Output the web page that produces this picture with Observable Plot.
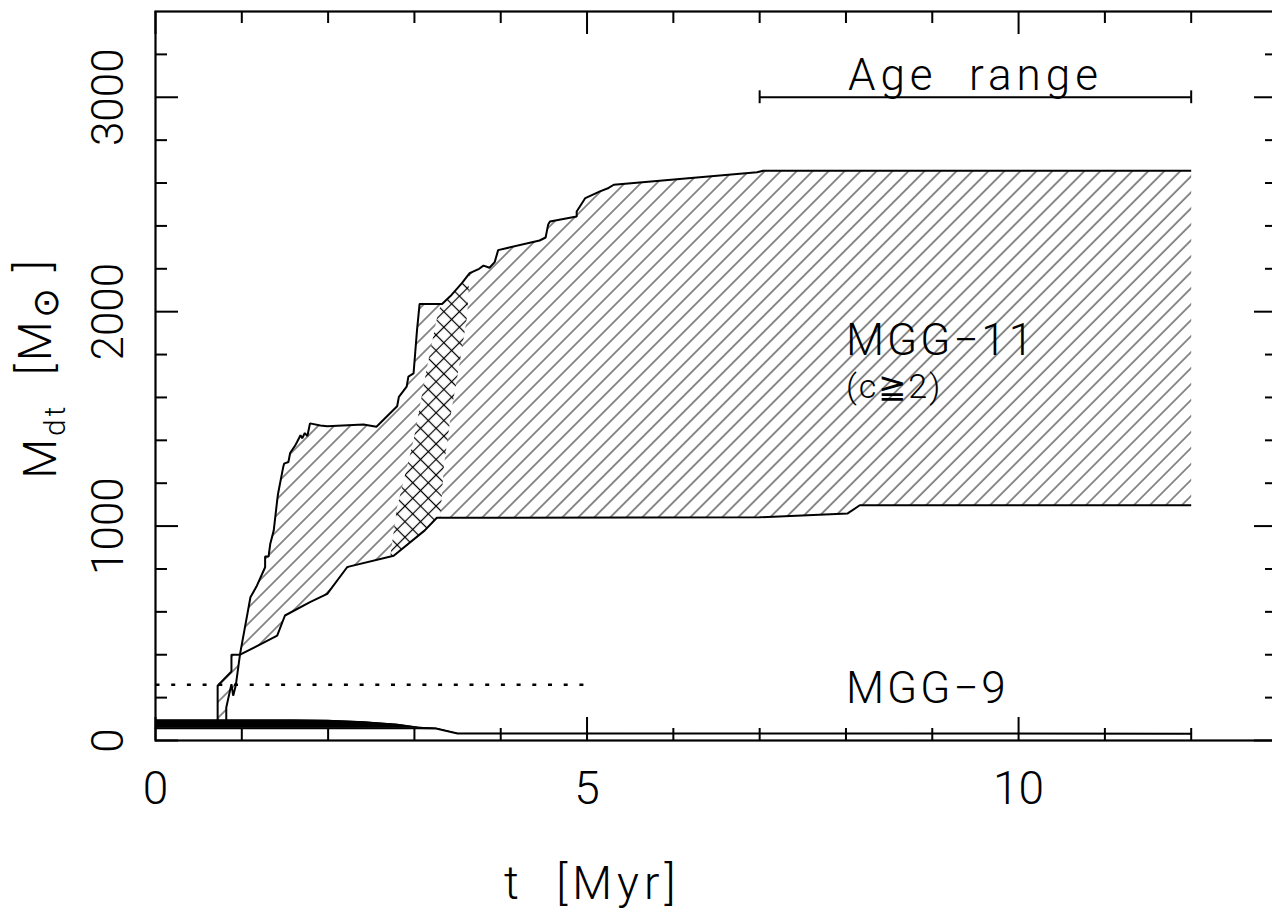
<!DOCTYPE html>
<html>
<head>
<meta charset="utf-8">
<script src="https://cdn.jsdelivr.net/npm/d3@7"></script>
<script src="https://cdn.jsdelivr.net/npm/@observablehq/plot@0.6"></script>
<style>
html, body { margin: 0; padding: 0; background: #fff; }
#chart svg { display: block; }
</style>
</head>
<body>
<div id="chart"></div>
<script>
// ---------- data ----------
// MGG-11 band: upper envelope (t [Myr], M_dt [Msun])
const upperT = [0.82, 0.82, 0.88, 0.90, 0.93, 0.98, 1.10, 1.17, 1.27, 1.27, 1.31, 1.33, 1.37, 1.41, 1.42,
  1.48, 1.49, 1.54, 1.56, 1.62, 1.64, 1.68, 1.70, 1.73, 1.76, 1.79, 1.91, 1.99, 2.41, 2.56, 2.80, 2.82,
  2.91, 2.93, 2.99, 3.01, 3.03, 3.06, 3.32, 3.43, 3.55, 3.64, 3.75, 3.80, 3.87, 3.93, 3.97, 4.45, 4.52,
  4.55, 4.57, 4.88, 4.88, 4.98, 5.15, 5.25, 5.31, 6.97, 7.04, 12];
const upperM = [96, 154, 263, 209, 256, 404, 668, 718, 808, 858, 858, 918, 980, 1120, 1151,
  1276, 1291, 1299, 1341, 1377, 1392, 1424, 1410, 1434, 1420, 1479, 1469, 1466, 1474, 1463, 1559, 1603,
  1650, 1697, 1712, 1813, 1914, 2036, 2036, 2078, 2133, 2180, 2200, 2215, 2205, 2231, 2287, 2332, 2346,
  2407, 2421, 2444, 2467, 2530, 2561, 2577, 2592, 2650, 2657, 2657];
// MGG-11 band: lower envelope
const lowerT = [0.72, 0.72, 0.88, 0.88, 0.98, 1.41, 1.50, 1.79, 1.99, 2.22, 2.24, 2.76, 3.12, 3.26, 7.0, 8.02, 8.16, 12];
const lowerM = [96, 256, 322, 400, 400, 489, 583, 645, 684, 808, 811, 862, 980, 1039, 1041, 1059, 1097, 1097];
// cross-hatched strip
const crossT = [2.72, 2.76, 3.12, 3.26, 3.30, 3.34, 3.43, 3.53, 3.61, 3.64, 3.55, 3.43, 3.32, 3.28, 3.14, 2.99, 2.80, 2.72];
const crossM = [859, 862, 980, 1039, 1040, 1276, 1541, 1775, 1977, 2180, 2133, 2078, 2036, 2008, 1728, 1400, 1089, 859];
// MGG-9 band
const mgg9T  = [0, 1.6, 2.0, 2.4, 2.8, 3.05, 3.25, 3.5, 12];
const mgg9Hi = [96, 96, 94, 88, 76, 62, 57, 33, 32];
const mgg9Lo = [57, 57, 57, 57, 57, 57, 56, 33, 32];
// dotted reference line
const dottedT = [0, 5];
const dottedM = [260, 260];
// age range bar
const ageT = [7, 12];
const ageM = 3000;
// ticks
const xMajor = [0, 5, 10];
const xMinor = [1, 2, 3, 4, 6, 7, 8, 9, 11, 12];
const xTickLabels = ["0", "5", "10"];
const yMajor = [0, 1000, 2000, 3000];
const yMinor = [200, 400, 600, 800, 1200, 1400, 1600, 1800, 2200, 2400, 2600, 2800, 3200];
const yTickLabels = ["0", "1000", "2000", "3000"];
// annotations
const ageText = ["Age\u00a0\u00a0range"];
const ageTextT = [9.5];
const nameText = ["MGG\u221211", "MGG\u22129"];
const nameT = [8.0, 8.0];
const nameM = [1798, 177];
const subText = ["(c\u22672)"];
const subT = [8.0];
const subM = [1597];
const xTitle = "t\u00a0\u00a0[Myr]";
const xTitleT = 5.06;

// ---------- layout ----------
const W = 1272, H = 914, mL = 155, mR = -5, mT = 11, mB = 174;
const plotW = W - mL - mR, plotH = H - mT - mB;
const FONT = "Roboto, 'DejaVu Sans', 'Noto Sans', sans-serif";

const band = [...d3.zip(upperT, upperM), ...d3.zip(lowerT, lowerM).reverse()];
const cross = d3.zip(crossT, crossM);
const X = d => d[0], Y = d => d[1];

const chart = Plot.plot({
  width: W, height: H,
  marginLeft: mL, marginRight: mR, marginTop: mT, marginBottom: mB,
  x: {domain: [0, 13], axis: null},
  y: {domain: [0, 3400], axis: null},
  style: {fontFamily: FONT, background: "white", color: "black", overflow: "hidden"},
  marks: [
    Plot.line(band, {x: X, y: Y, fill: "url(#hatch)", stroke: "none"}),
    Plot.line(cross, {x: X, y: Y, fill: "url(#xhatch)", stroke: "none"}),
    Plot.line(d3.zip(upperT, upperM), {x: X, y: Y, stroke: "black", strokeWidth: 2, strokeLinejoin: "miter", strokeLinecap: "butt"}),
    Plot.line(d3.zip(lowerT, lowerM), {x: X, y: Y, stroke: "black", strokeWidth: 2, strokeLinejoin: "miter", strokeLinecap: "butt"}),
    Plot.areaY(mgg9T, {x: d => d, y1: (d, i) => mgg9Lo[i], y2: (d, i) => mgg9Hi[i], fill: "black"}),
    Plot.line(mgg9T, {x: d => d, y: (d, i) => mgg9Lo[i], stroke: "black", strokeWidth: 2}),
    Plot.line(mgg9T, {x: d => d, y: (d, i) => mgg9Hi[i], stroke: "black", strokeWidth: 1}),
    Plot.line(dottedT, {x: d => d, y: (d, i) => dottedM[i], stroke: "black", strokeWidth: 2.5, strokeDasharray: "4,11.7", strokeLinecap: "butt"}),
    // age range bar
    Plot.ruleY([ageM], {x1: ageT[0], x2: ageT[1], stroke: "black", strokeWidth: 2}),
    Plot.ruleX(ageT, {x: d => d, y1: ageM - 30, y2: ageM + 30, stroke: "black", strokeWidth: 2}),
    // annotations
    Plot.text(ageText, {x: (d, i) => ageTextT[i], y: () => ageM, text: d => d, textAnchor: "middle", dy: -7,
      lineAnchor: "bottom", fontSize: 44, fontWeight: 300, fill: "black"}),
    Plot.text(nameText, {x: (d, i) => nameT[i], y: (d, i) => nameM[i], text: d => d, textAnchor: "start",
      lineAnchor: "bottom", fontSize: 44, fontWeight: 300, fill: "black"}),
    Plot.text(subText, {x: (d, i) => subT[i], y: (d, i) => subM[i], text: d => d,
      textAnchor: "start", lineAnchor: "bottom", fontSize: 34, fontWeight: 300, fill: "black"}),
    // tick labels
    Plot.text(xTickLabels, {x: (d, i) => xMajor[i], text: d => d, frameAnchor: "bottom", dy: 31,
      lineAnchor: "top", fontSize: 46, fontWeight: 300, fill: "black"}),
    Plot.text(yTickLabels, {y: (d, i) => yMajor[i], text: d => d, frameAnchor: "left", dx: -33, rotate: -90,
      textAnchor: "middle", lineAnchor: "bottom", fontSize: 44, fontWeight: 300, fill: "black"}),
    Plot.text([xTitle], {x: () => xTitleT, text: d => d, frameAnchor: "bottom", dy: 158,
      lineAnchor: "bottom", textAnchor: "middle", fontSize: 46, fontWeight: 300, fill: "black"}),
    // inward ticks
    Plot.tickX(xMinor, {x: d => d, insetTop: plotH - 12, stroke: "black", strokeWidth: 2}),
    Plot.tickX(xMinor, {x: d => d, insetBottom: plotH - 12, stroke: "black", strokeWidth: 2}),
    Plot.tickX(xMajor, {x: d => d, insetTop: plotH - 23, stroke: "black", strokeWidth: 2}),
    Plot.tickX(xMajor, {x: d => d, insetBottom: plotH - 23, stroke: "black", strokeWidth: 2}),
    Plot.tickY(yMinor, {y: d => d, insetRight: plotW - 12, stroke: "black", strokeWidth: 2}),
    Plot.tickY(yMinor, {y: d => d, insetLeft: plotW - 12, stroke: "black", strokeWidth: 2}),
    Plot.tickY(yMajor, {y: d => d, insetRight: plotW - 23, stroke: "black", strokeWidth: 2}),
    Plot.tickY(yMajor, {y: d => d, insetLeft: plotW - 23, stroke: "black", strokeWidth: 2}),
    Plot.frame({stroke: "black", strokeWidth: 2.2})
  ]
});

// hatch patterns
const svg = d3.select(chart);
const defs = svg.insert("defs", ":first-child");
const hatch = defs.append("pattern").attr("id", "hatch")
  .attr("patternUnits", "userSpaceOnUse").attr("width", 11.3).attr("height", 11.3)
  .attr("patternTransform", "rotate(45)");
hatch.append("line").attr("x1", 5.65).attr("y1", -1).attr("x2", 5.65).attr("y2", 12.3)
  .attr("stroke", "black").attr("stroke-width", 0.9);
const xh = defs.append("pattern").attr("id", "xhatch")
  .attr("patternUnits", "userSpaceOnUse").attr("width", 11).attr("height", 11)
  .attr("patternTransform", "rotate(45)");
xh.append("rect").attr("width", 11).attr("height", 11).attr("fill", "white");
xh.append("line").attr("x1", 5.5).attr("y1", -1).attr("x2", 5.5).attr("y2", 12).attr("stroke", "black").attr("stroke-width", 1.2);
xh.append("line").attr("x1", -1).attr("y1", 5.5).attr("x2", 12).attr("y2", 5.5).attr("stroke", "black").attr("stroke-width", 1.2);

// letter spacing to mimic the wide plotter font
svg.selectAll("text").filter(function () { return /range|Myr/.test(this.textContent); })
  .style("letter-spacing", "5px");
svg.selectAll("text").filter(function () { return /MGG/.test(this.textContent); })
  .style("letter-spacing", "3px");
svg.selectAll("text").filter(function () { return /\u2267/.test(this.textContent); })
  .style("letter-spacing", "2px");

// y-axis title with subscripts
const yt = svg.append("text")
  .attr("transform", "translate(56,368) rotate(-90)")
  .attr("text-anchor", "middle")
  .attr("font-family", FONT).attr("font-weight", 300).attr("font-size", 46).attr("fill", "black")
  .style("letter-spacing", "3px");
yt.append("tspan").text("M");
yt.append("tspan").attr("font-size", 30).attr("dy", "0.3em").text("dt");
yt.append("tspan").attr("dy", "-0.3em").text("\u00a0\u00a0[M");
yt.append("tspan").attr("font-size", 36).attr("dy", "0.2em").text("\u2299");
yt.append("tspan").attr("dy", "-0.2em").text("\u00a0]");

document.getElementById("chart").appendChild(chart);
</script>
</body>
</html>
